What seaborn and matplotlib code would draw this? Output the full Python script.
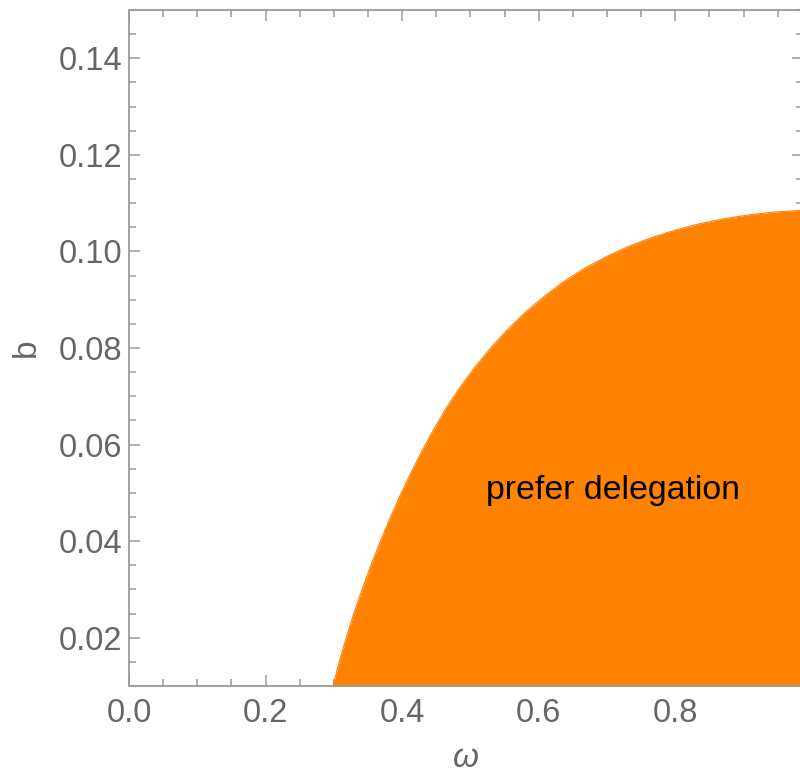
import matplotlib
matplotlib.use("Agg")
import matplotlib.pyplot as plt
from matplotlib.ticker import MultipleLocator
import pandas as pd
import seaborn as sns

# Boundary of the region where delegation is preferred: b below this curve
omega = [0.2987, 0.3079, 0.3182, 0.3290, 0.3409, 0.3534, 0.3668, 0.3808,
         0.3956, 0.4113, 0.4277, 0.4451, 0.4637, 0.4837, 0.5054, 0.5287,
         0.5533, 0.5796, 0.6075, 0.6367, 0.6676, 0.6999, 0.7332, 0.7675,
         0.8023, 0.8378, 0.8738, 0.9100, 0.9463, 0.9829, 0.9971, 1.0000]
b_bound = [0.01000, 0.01501, 0.01998, 0.02493, 0.02982, 0.03469, 0.03951,
           0.04430, 0.04902, 0.05370, 0.05832, 0.06289, 0.06735, 0.07167,
           0.07584, 0.07986, 0.08369, 0.08729, 0.09065, 0.09375, 0.09655,
           0.09899, 0.10115, 0.10297, 0.10452, 0.10580, 0.10684, 0.10761,
           0.10817, 0.10848, 0.10854, 0.10855]

x_ticks = [0.0, 0.2, 0.4, 0.6, 0.8]
y_ticks = [0.02, 0.04, 0.06, 0.08, 0.10, 0.12, 0.14]
region_label = "prefer delegation"

sns.set_theme(style="ticks")
plt.rcParams["font.family"] = ["Liberation Sans", "DejaVu Sans"]

W, H = 800, 776
fig = plt.figure(figsize=(W / 100, H / 100), dpi=100)
ax = fig.add_axes([129 / W, (H - 686) / H, 674 / W, 676 / H])

df = pd.DataFrame({"omega": omega, "b": b_bound})
orange = "#FF8200"
ax.fill_between(df["omega"], 0.0, df["b"], color=orange, linewidth=0)
sns.lineplot(data=df, x="omega", y="b", ax=ax, color=orange, linewidth=0.8,
             sort=False)

ax.set_xlim(0, 0.987)
ax.set_ylim(0.01, 0.15)

gray = "#9a9a9a"
label_gray = "#666666"
for s in ax.spines.values():
    s.set_color(gray)
    s.set_linewidth(1.3)

ax.set_xticks(x_ticks)
ax.set_xticklabels([f"{v:.1f}" for v in x_ticks])
ax.set_yticks(y_ticks)
ax.set_yticklabels([f"{v:.2f}" for v in y_ticks])
ax.xaxis.set_minor_locator(MultipleLocator(0.05))
ax.yaxis.set_minor_locator(MultipleLocator(0.005))
ax.tick_params(which="both", direction="in", top=True, right=True,
               color=gray, width=1.1)
ax.tick_params(which="major", length=8, labelsize=23.5, labelcolor=label_gray)
ax.tick_params(axis="x", which="major", pad=9)
ax.tick_params(axis="y", which="major", pad=5)
ax.tick_params(which="minor", length=5)

ax.set_xlabel("ω", fontsize=24, color=label_gray, style="italic", labelpad=10)
ax.set_ylabel("b", fontsize=24, color=label_gray, labelpad=12)

ax.text(0.709, 0.0505, region_label, ha="center", va="center",
        fontsize=24.4, color="black")

fig.savefig("out.png", dpi=100)
